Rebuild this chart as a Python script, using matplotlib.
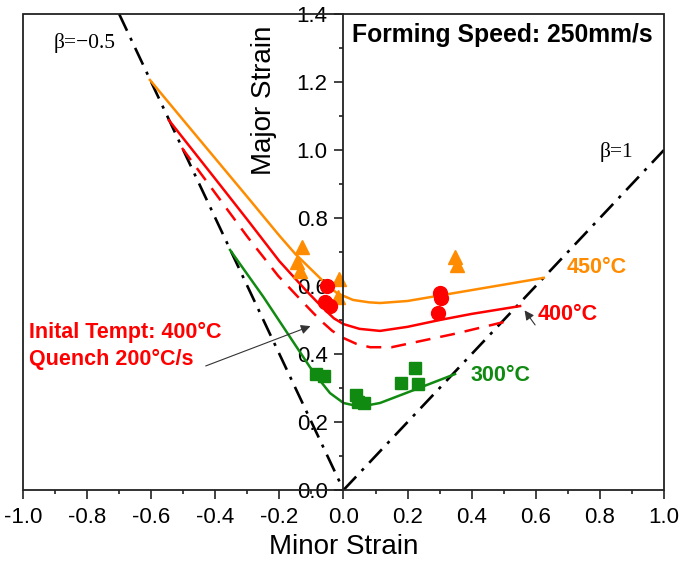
import numpy as np
import matplotlib.pyplot as plt
from matplotlib.patches import Rectangle
from matplotlib.ticker import MultipleLocator

plt.rcParams['font.family'] = ['Liberation Sans', 'DejaVu Sans']

# forming limit curves (minor strain, major strain)
minor_450 = [-0.604, -0.5, -0.4, -0.3, -0.2, -0.15, -0.1, -0.05, -0.02, 0.03, 0.08, 0.114, 0.2, 0.3, 0.4, 0.5, 0.625]
major_450 = [1.206, 1.088, 0.975, 0.862, 0.748, 0.694, 0.648, 0.602, 0.579, 0.559, 0.552, 0.55, 0.556, 0.572, 0.588, 0.604, 0.624]

minor_400 = [-0.545, -0.4, -0.3, -0.2, -0.12, -0.073, -0.03, 0.0, 0.05, 0.114, 0.2, 0.3, 0.4, 0.551]
major_400 = [1.088, 0.915, 0.795, 0.673, 0.59, 0.544, 0.505, 0.488, 0.474, 0.468, 0.48, 0.5, 0.518, 0.541]

minor_quench = [-0.504, -0.4, -0.3, -0.204, -0.114, -0.073, -0.035, 0.0, 0.04, 0.083, 0.15, 0.25, 0.35, 0.5]
major_quench = [1.006, 0.873, 0.745, 0.63, 0.54, 0.50, 0.468, 0.447, 0.43, 0.42, 0.42, 0.44, 0.46, 0.494]

minor_300 = [-0.354, -0.25, -0.167, -0.105, -0.07, -0.042, 0.0, 0.052, 0.114, 0.2, 0.348]
major_300 = [0.706, 0.568, 0.45, 0.362, 0.318, 0.285, 0.256, 0.245, 0.256, 0.287, 0.341]

# measured points
tri_minor = [-0.13, -0.145, -0.136, -0.014, -0.017, 0.348, 0.354]
tri_major = [0.716, 0.67, 0.645, 0.62, 0.568, 0.686, 0.662]

circ_minor = [-0.05, -0.058, -0.042, 0.30, 0.305, 0.295]
circ_major = [0.60, 0.553, 0.541, 0.578, 0.565, 0.52]

sq_minor = [-0.085, -0.06, 0.04, 0.045, 0.065, 0.18, 0.222, 0.232]
sq_major = [0.342, 0.335, 0.28, 0.26, 0.255, 0.315, 0.36, 0.312]

# strain paths
beta_neg_minor = [-0.7, 0.0]
beta_neg_major = [1.4, 0.0]
beta_one_minor = [0.0, 1.0]
beta_one_major = [0.0, 1.0]

ORANGE = '#ff8c00'
RED = '#ff0000'
GREEN = '#118a11'

fig = plt.figure(figsize=(6.85, 5.65), dpi=100)
ax = fig.add_axes([0.0336, 0.1327, 0.9357, 0.8425])

dd = (0, (7, 3, 1.2, 3))
ax.plot(beta_neg_minor, beta_neg_major, color='k', lw=1.9, linestyle=dd)
ax.plot(beta_one_minor, beta_one_major, color='k', lw=1.9, linestyle=dd)

ax.plot(minor_450, major_450, color=ORANGE, lw=1.8, solid_joinstyle='round')
ax.plot(minor_400, major_400, color=RED, lw=1.8, solid_joinstyle='round')
ax.plot(minor_quench, major_quench, color=RED, lw=1.8, linestyle=(0, (6, 4)))
ax.plot(minor_300, major_300, color=GREEN, lw=1.8, solid_joinstyle='round')

ax.plot(tri_minor, tri_major, '^', color=ORANGE, ms=10, mec=ORANGE)
ax.plot(circ_minor, circ_major, 'o', color=RED, ms=10, mec=RED)
ax.plot(sq_minor, sq_major, 's', color=GREEN, ms=9, mec=GREEN)

ax.set_xlim(-1.0, 1.0)
ax.set_ylim(0.0, 1.4)

# y axis through zero, frame drawn separately
for s in ['top', 'right', 'bottom']:
    ax.spines[s].set_visible(False)
ax.spines['left'].set_position(('data', 0))
ax.spines['left'].set_color('#222222')
ax.spines['left'].set_linewidth(1.3)
ax.add_patch(Rectangle((0, 0), 1, 1, transform=ax.transAxes, fill=False,
                       edgecolor='#222222', lw=1.3, clip_on=False, zorder=5))

ax.xaxis.set_major_locator(MultipleLocator(0.2))
ax.xaxis.set_minor_locator(MultipleLocator(0.1))
ax.yaxis.set_major_locator(MultipleLocator(0.2))
ax.yaxis.set_minor_locator(MultipleLocator(0.1))
ax.xaxis.set_major_formatter(lambda v, p: f'{v:.1f}'.replace('-0.0', '0.0'))
ax.yaxis.set_major_formatter(lambda v, p: f'{v:.1f}')
ax.tick_params(which='major', direction='out', length=6.5, width=1.2, color='#222222',
               labelsize=16, pad=6)
ax.tick_params(which='minor', direction='out', length=3, width=1.2, color='#222222')
ax.tick_params(axis='y', pad=5)

ax.set_xlabel('Minor Strain', fontsize=20, labelpad=4)
ax.text(-0.248, 1.147, 'Major Strain', rotation=90, fontsize=20, ha='center', va='center')

ax.text(0.027, 1.338, 'Forming Speed: 250mm/s', fontsize=17.8, fontweight='bold',
        ha='left', va='center')
ax.text(-0.906, 1.315, 'β=−0.5', fontsize=15.5, family='Liberation Serif', ha='left', va='center')
ax.text(0.80, 0.995, 'β=1', fontsize=15.5, family='Liberation Serif', ha='left', va='center')

ax.text(0.697, 0.653, '450°C', color=ORANGE, fontsize=15.5, fontweight='bold', va='center')
ax.text(0.607, 0.515, '400°C', color=RED, fontsize=15.5, fontweight='bold', va='center')
ax.text(0.395, 0.338, '300°C', color=GREEN, fontsize=15.5, fontweight='bold', va='center')

ax.text(-0.98, 0.424, 'Inital Tempt: 400°C\nQuench 200°C/s', color=RED, fontsize=15.5,
        fontweight='bold', ha='left', va='center', linespacing=1.35)

ax.annotate('', xy=(-0.095, 0.485), xytext=(-0.438, 0.362),
            arrowprops=dict(arrowstyle='-|>', color='#333333', lw=0.8, mutation_scale=14))
ax.annotate('', xy=(0.56, 0.535), xytext=(0.603, 0.479),
            arrowprops=dict(arrowstyle='-|>', color='#333333', lw=0.8, mutation_scale=14))

fig.savefig('out.png', dpi=100)
